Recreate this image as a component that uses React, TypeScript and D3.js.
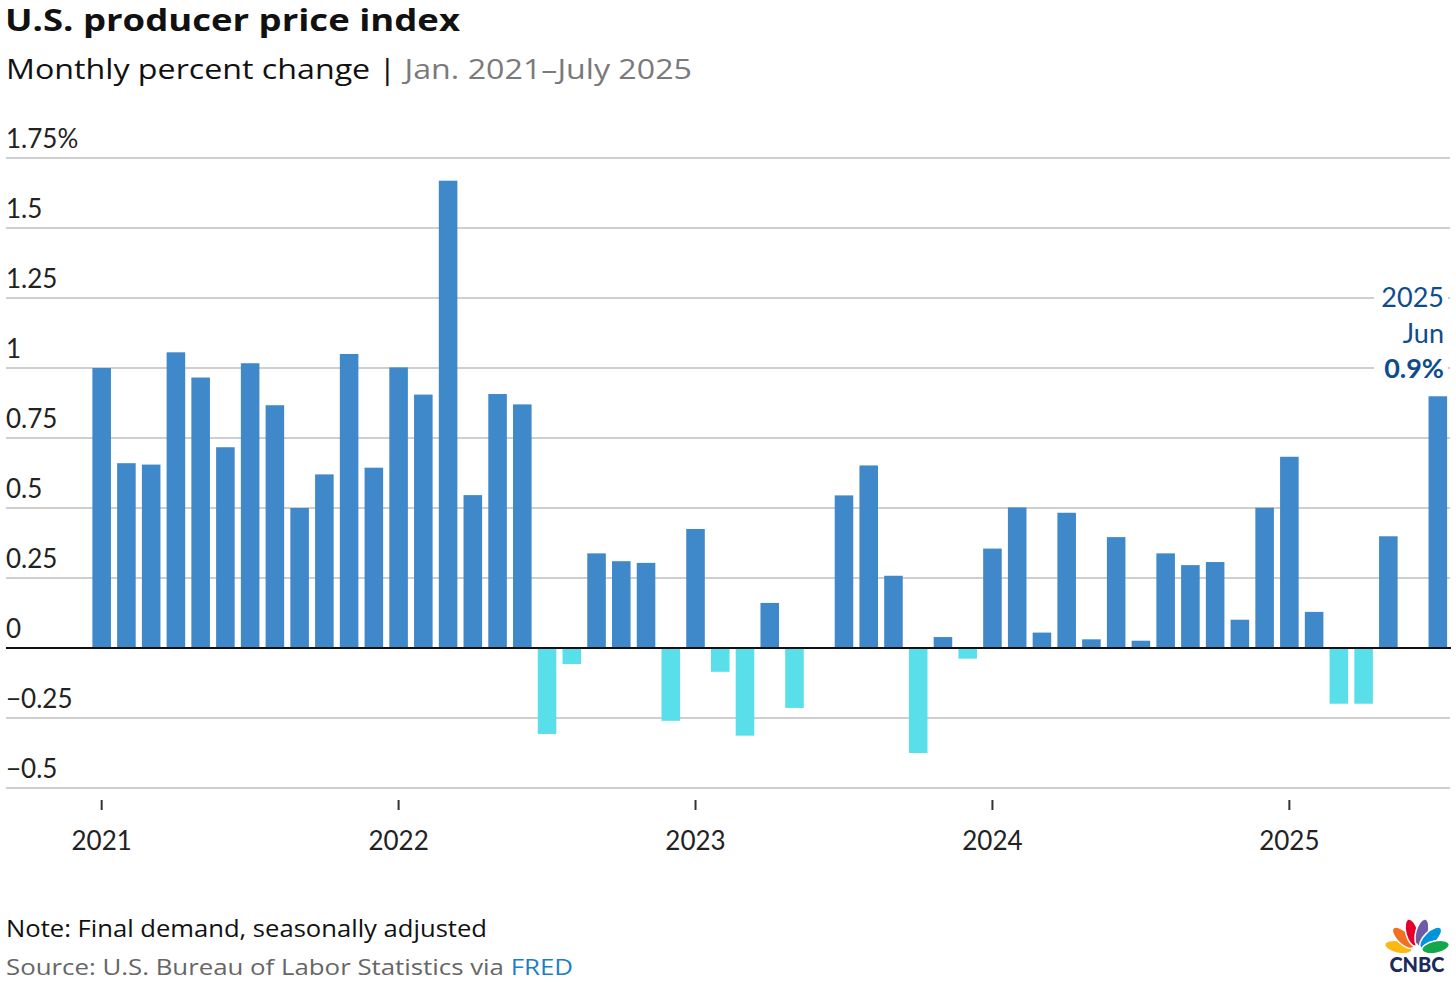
import React, { useEffect } from "react";
import * as d3 from "d3";

const W = 1456;
const H = 982;

const startMonth = new Date(2021, 0, 1);
const endMonth = new Date(2025, 7, 1);
const months: Date[] = d3.timeMonth.range(startMonth, endMonth);

const values2021 = [1.0, 0.66, 0.655, 1.056, 0.966, 0.717, 1.017, 0.867, 0.5, 0.62, 1.05, 0.644];
const values2022 = [1.002, 0.905, 1.669, 0.546, 0.907, 0.87, -0.307, -0.057, 0.338, 0.31, 0.304, -0.26];
const values2023 = [0.425, -0.085, -0.313, 0.161, -0.214, 0, 0.545, 0.652, 0.258, -0.375, 0.039, -0.038];
const values2024 = [0.355, 0.502, 0.055, 0.483, 0.031, 0.396, 0.026, 0.338, 0.296, 0.307, 0.101, 0.501];
const values2025 = [0.683, 0.129, -0.199, -0.199, 0.399, 0, 0.899];
const values = [...values2021, ...values2022, ...values2023, ...values2024, ...values2025];

const yTicks = [-0.5, -0.25, 0, 0.25, 0.5, 0.75, 1, 1.25, 1.5, 1.75];
const yTickLabels = ["\u22120.5", "\u22120.25", "0", "0.25", "0.5", "0.75", "1", "1.25", "1.5", "1.75%"];
const yearTicks = [2021, 2022, 2023, 2024, 2025];

const annotationLines = ["2025", "Jun", "0.9%"];

const FONT = "'Open Sans', Lato, sans-serif";
const POS = "#3F88C9";
const NEG = "#59DFEA";

const feathers = [
  { color: "#FDB913", angle: -78 },
  { color: "#F37021", angle: -46 },
  { color: "#E4002B", angle: -15 },
  { color: "#6E5BA8", angle: 15 },
  { color: "#0095DA", angle: 46 },
  { color: "#12A84A", angle: 78 },
];

export default function App() {
  useEffect(() => {
    document.body.style.margin = "0";
  }, []);

  const x = d3
    .scaleBand<number>()
    .domain(d3.range(months.length))
    .range([89.3, 1450.2])
    .paddingInner(0.25)
    .paddingOuter(0.125);

  const y = d3.scaleLinear().domain([-0.5, 1.75]).range([788, 158]);

  const xc = (i: number) => (x(i) as number) + x.bandwidth() / 2;

  return (
    <svg width={W} height={H} style={{ display: "block", background: "#fff" }} fontFamily={FONT}>
      <rect x={0} y={0} width={W} height={H} fill="#fff" />
      {/* Title */}
      <text x={5} y={31} fontSize={30} fontWeight={700} fill="#111" textLength={455} lengthAdjust="spacingAndGlyphs">
        U.S. producer price index
      </text>
      <text x={6} y={79} fontSize={27} fill="#111" textLength={686} lengthAdjust="spacingAndGlyphs">
        Monthly percent change |{" "}
        <tspan fill="#7a7a7a">Jan. 2021–July 2025</tspan>
      </text>

      {/* Gridlines and y labels */}
      {yTicks.map((t, i) => (
        <g key={t}>
          {t !== 0 && (
            <line x1={6} x2={1450} y1={y(t)} y2={y(t)} stroke="#cfcfcf" strokeWidth={2} />
          )}
          <text x={6} y={y(t) - 10} fontSize={26} fill="#222" fontFamily="Lato, sans-serif">
            {yTickLabels[i]}
          </text>
        </g>
      ))}

      {/* Bars */}
      {values.map((v, i) => (
        <rect
          key={i}
          x={x(i)}
          width={x.bandwidth()}
          y={Math.min(y(v), y(0))}
          height={Math.abs(y(v) - y(0))}
          fill={v >= 0 ? POS : NEG}
        />
      ))}

      {/* Zero line */}
      <line x1={6} x2={1451} y1={y(0)} y2={y(0)} stroke="#111" strokeWidth={2} />

      {/* X axis year ticks */}
      {yearTicks.map((yr) => {
        const idx = months.findIndex((m) => m.getFullYear() === yr && m.getMonth() === 0);
        const cx = xc(idx);
        return (
          <g key={yr}>
            <line x1={cx} x2={cx} y1={800} y2={810} stroke="#333" strokeWidth={2} />
            <text x={cx} y={850} fontSize={26} fill="#222" textAnchor="middle" fontFamily="Lato, sans-serif">
              {yr}
            </text>
          </g>
        );
      })}

      {/* Annotation */}
      <rect x={1374} y={283} width={74} height={100} fill="#fff" />
      {annotationLines.map((t, i) => (
        <text
          key={t}
          x={1444}
          y={307 + i * 35.5}
          fontSize={27}
          fontWeight={i === 2 ? 700 : 400}
          fill="#0E4C8C"
          textAnchor="end"
          fontFamily="Lato, sans-serif"
        >
          {t}
        </text>
      ))}

      {/* Footer */}
      <text x={6} y={937} fontSize={23} fill="#111" textLength={481} lengthAdjust="spacingAndGlyphs">
        Note: Final demand, seasonally adjusted
      </text>
      <text x={6} y={975} fontSize={22.5} fill="#666" textLength={567} lengthAdjust="spacingAndGlyphs">
        Source: U.S. Bureau of Labor Statistics via <tspan fill="#1C7FC4">FRED</tspan>
      </text>

      {/* CNBC logo */}
      <g transform="translate(1417,951)">
        {feathers.map((f) => (
          <ellipse
            key={f.color}
            cx={0}
            cy={-19}
            rx={6.2}
            ry={14}
            fill={f.color}
            stroke="#fff"
            strokeWidth={1.5}
            transform={`rotate(${f.angle})`}
          />
        ))}
        <path d="M-5,0 L0,-8 L5,0 Z" fill="#fff" />
      </g>
      <text x={1417} y={972} fontSize={20} fontWeight={900} fill="#1B2A5E" textAnchor="middle" fontFamily="Lato, sans-serif">
        CNBC
      </text>
    </svg>
  );
}
